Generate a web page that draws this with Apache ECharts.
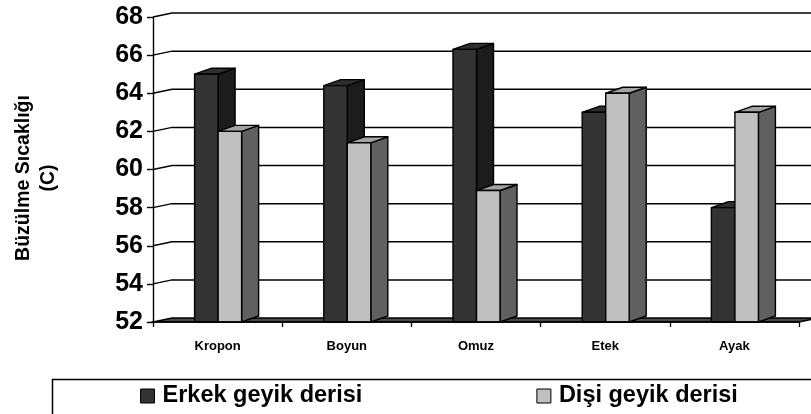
<!DOCTYPE html>
<html>
<head>
<meta charset="utf-8">
<script src="https://cdn.jsdelivr.net/npm/echarts@6/dist/echarts.min.js"></script>
<style>
  html, body { margin: 0; padding: 0; background: #fff; }
  #chart { width: 811px; height: 414px; }
</style>
</head>
<body>
<div id="chart"></div>
<script>
// Shrinkage temperature by body region, male vs female deer skin
const categories = ['Kropon', 'Boyun', 'Omuz', 'Etek', 'Ayak'];
const erkek = [65.0, 64.4, 66.3, 63.0, 58.0];
const disi  = [62.0, 61.4, 58.9, 64.0, 63.0];
const yTicks = [52, 54, 56, 58, 60, 62, 64, 66, 68];
const seriesNames = ['Erkek geyik derisi', 'Dişi geyik derisi'];
const axisTitle = 'Büzülme Sıcaklığı\n(C)';

const Y_MIN = 52, Y_MAX = 68, Y_STEP = 2;
const WALL = [19, -4];   // offset of the back wall from the front plane
const BAR = [17, -6];    // depth offset of each column
const FONT = '"Liberation Sans", Arial, Helvetica, sans-serif';

const palettes = [
  { front: '#333333', side: '#1c1c1c', top: '#2e2e2e' },
  { front: '#c0c0c0', side: '#606060', top: '#a3a3a3' }
];

// back-wall gridlines with their slanted connectors, plus the floor slab
function wallItem(params, api) {
  const v = api.value(1);
  const cs = params.coordSys;
  const y = api.coord([0, v])[1];
  const x0 = cs.x, x1 = cs.x + cs.width;
  if (v === Y_MIN) {
    return {
      type: 'polygon',
      shape: { points: [[x0, y], [x0 + WALL[0], y + WALL[1]], [x1 + WALL[0], y + WALL[1]], [x1, y]] },
      style: { fill: '#4a4a4a', stroke: '#000', lineWidth: 1.6 }
    };
  }
  return {
    type: 'polyline',
    shape: { points: [[x0, y], [x0 + WALL[0], y + WALL[1]], [x1 + WALL[0] + 10, y + WALL[1]]] },
    style: { fill: null, stroke: '#000', lineWidth: 1.5 }
  };
}

// 3D column: side face, top face, then front face
function barItem(side, pal) {
  return function (params, api) {
    const i = api.value(0), v = api.value(1);
    const top = api.coord([i, v]);
    const base = api.coord([i, Y_MIN]);
    const w = api.size([1, 0])[0] * 0.182;
    const xa = side === 0 ? top[0] - w + 0.5 : top[0] + 0.5;
    const xb = xa + w;
    const yt = top[1], yb = base[1];
    const st = { stroke: '#000', lineWidth: 1.4, lineJoin: 'round' };
    return {
      type: 'group',
      children: [
        { type: 'polygon',
          shape: { points: [[xb, yt], [xb + BAR[0], yt + BAR[1]], [xb + BAR[0], yb + BAR[1]], [xb, yb]] },
          style: Object.assign({}, st, { fill: pal.side }) },
        { type: 'polygon',
          shape: { points: [[xa, yt], [xa + BAR[0], yt + BAR[1]], [xb + BAR[0], yt + BAR[1]], [xb, yt]] },
          style: Object.assign({}, st, { fill: pal.top }) },
        { type: 'rect',
          shape: { x: xa, y: yt, width: w, height: yb - yt },
          style: Object.assign({}, st, { fill: pal.front }) }
      ]
    };
  };
}

const chart = echarts.init(document.getElementById('chart'), null, { renderer: 'canvas' });

chart.setOption({
  animation: false,
  backgroundColor: '#fff',
  textStyle: { fontFamily: FONT },
  grid: { left: 153, right: 12, top: 17, bottom: 92 },
  xAxis: {
    type: 'category',
    data: categories,
    boundaryGap: true,
    axisLine: { show: true, lineStyle: { color: '#000', width: 1.5 } },
    axisTick: { show: true, length: 5, lineStyle: { color: '#000', width: 1.3 } },
    axisLabel: { color: '#000', fontWeight: 'bold', fontSize: 13, margin: 18, fontFamily: FONT },
    splitLine: { show: false },
    z: 10
  },
  yAxis: {
    type: 'value',
    min: Y_MIN, max: Y_MAX, interval: Y_STEP,
    axisLine: { show: true, lineStyle: { color: '#000', width: 1.4 } },
    axisTick: { show: true, length: 6, lineStyle: { color: '#000', width: 1.4 } },
    axisLabel: { color: '#000', fontWeight: 'bold', fontSize: 25, margin: 10, fontFamily: FONT },
    splitLine: { show: false }
  },
  legend: {
    data: seriesNames,
    left: 140, top: 384,
    padding: 0,
    itemGap: 174,
    itemWidth: 14, itemHeight: 14,
    icon: 'rect',
    itemStyle: { borderColor: '#000', borderWidth: 1 },
    textStyle: { color: '#000', fontWeight: 'bold', fontSize: 23.5, lineHeight: 22, fontFamily: FONT, padding: [0, 0, 0, 3] },
    selectedMode: false
  },
  graphic: [
    { type: 'rect', left: 50, top: 377, z: 0,
      shape: { x: 0, y: 0, width: 800, height: 60 },
      style: { fill: 'none', stroke: '#000', lineWidth: 1.5 } },
    { type: 'text', x: 36, y: 178, rotation: Math.PI / 2, z: 10,
      style: { text: axisTitle, font: 'bold 19.5px ' + FONT, fill: '#000',
               textAlign: 'center', textVerticalAlign: 'middle',
               align: 'center', verticalAlign: 'middle', lineHeight: 25 } }
  ],
  series: [
    { type: 'custom', name: 'wall', clip: false, silent: true, z: 1,
      renderItem: wallItem,
      data: yTicks.map(v => [0, v]) },
    { type: 'custom', name: seriesNames[0], clip: false, z: 3,
      itemStyle: { color: palettes[0].front, borderColor: '#000', borderWidth: 1 },
      renderItem: barItem(0, palettes[0]),
      data: erkek.map((v, i) => [i, v]) },
    { type: 'custom', name: seriesNames[1], clip: false, z: 4,
      itemStyle: { color: palettes[1].front, borderColor: '#000', borderWidth: 1 },
      renderItem: barItem(1, palettes[1]),
      data: disi.map((v, i) => [i, v]) }
  ]
});
</script>
</body>
</html>
